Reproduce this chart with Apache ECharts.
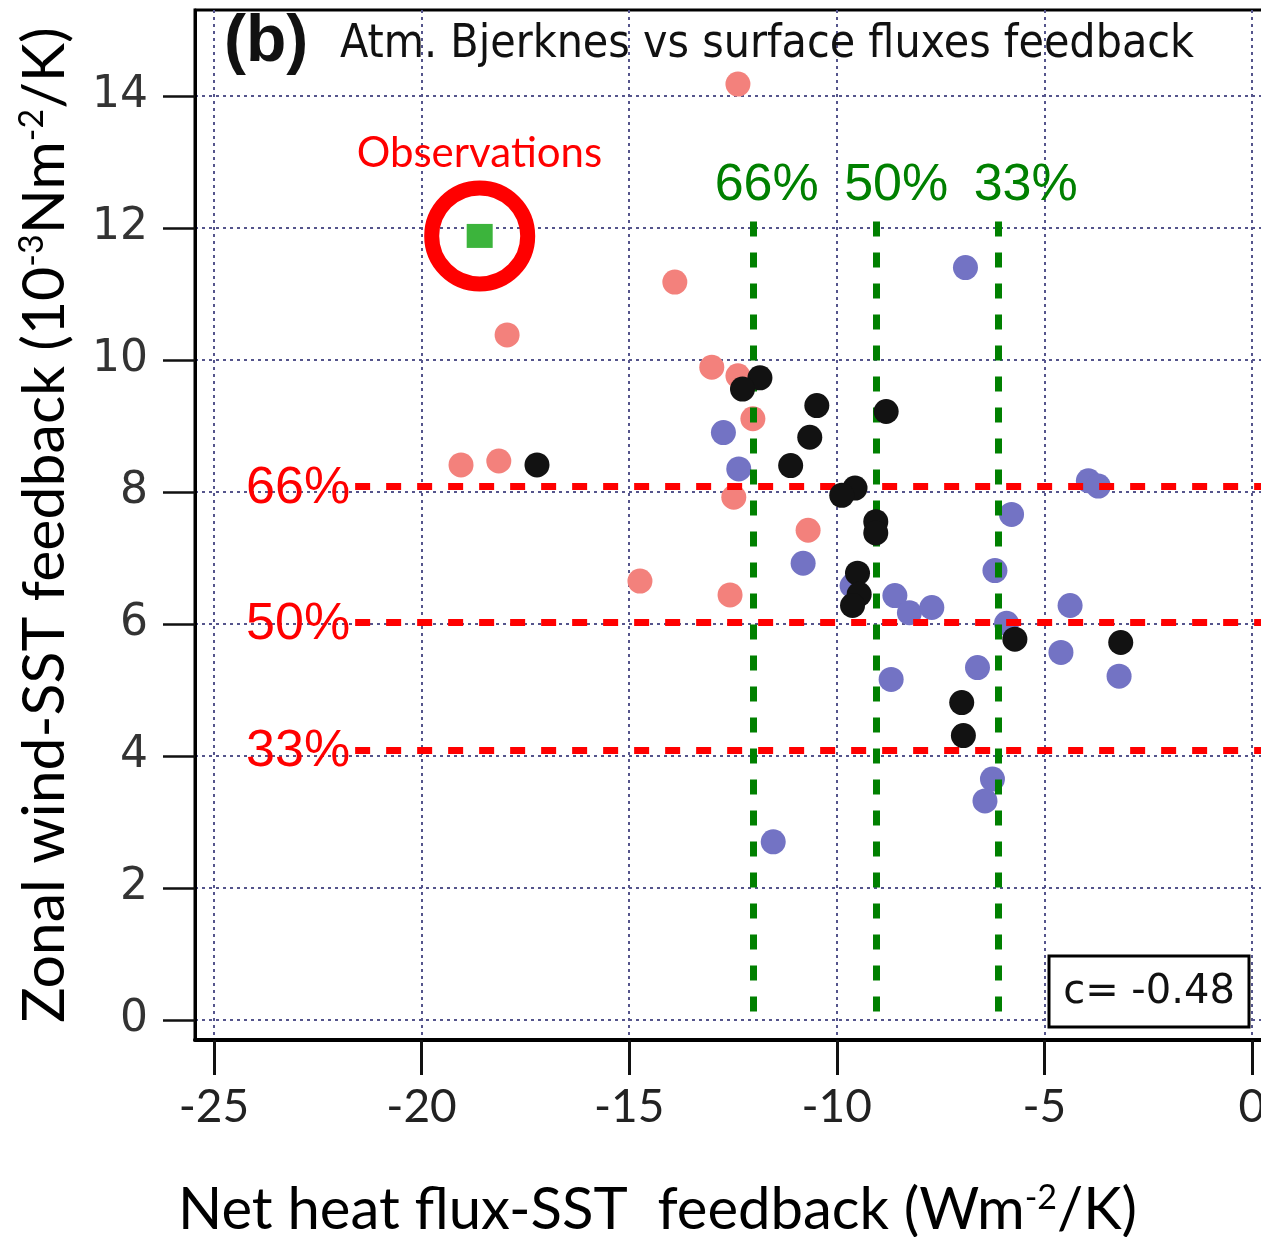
<!DOCTYPE html>
<html>
<head>
<meta charset="utf-8">
<script src="https://cdn.jsdelivr.net/npm/echarts@6/dist/echarts.min.js"></script>
<style>
  html, body { margin: 0; padding: 0; background: #ffffff; }
  #chart { width: 1261px; height: 1237px; }
</style>
</head>
<body>
<div id="chart"></div>
<script>
// Axis ticks
const xTicks = [-25, -20, -15, -10, -5, 0];
const yTicks = [0, 2, 4, 6, 8, 10, 12, 14];

// Model feedbacks: [net heat flux-SST (W m-2 K-1), zonal wind-SST (1e-3 N m-2 K-1)]
const pinkModels = [
  [-12.38, 14.18], [-13.90, 11.18], [-17.94, 10.38], [-13.01, 9.89],
  [-12.38, 9.76], [-12.02, 9.11], [-19.05, 8.41], [-18.14, 8.47],
  [-12.48, 7.92], [-10.69, 7.42], [-14.74, 6.65], [-12.57, 6.44]
];
const blueModels = [
  [-6.90, 11.40], [-12.73, 8.90], [-12.36, 8.35], [-10.81, 6.92],
  [-9.63, 6.58], [-8.60, 6.43], [-8.25, 6.17], [-7.71, 6.25],
  [-8.69, 5.16], [-6.61, 5.34], [-6.19, 6.81], [-5.79, 7.66],
  [-5.91, 6.01], [-3.94, 8.17], [-3.70, 8.09], [-4.38, 6.28],
  [-4.60, 5.57], [-3.20, 5.21], [-6.25, 3.65], [-6.43, 3.32],
  [-11.53, 2.70]
];
const blackModels = [
  [-11.85, 9.73], [-12.27, 9.56], [-10.48, 9.31], [-8.81, 9.22],
  [-10.65, 8.83], [-11.11, 8.40], [-9.56, 8.06], [-9.88, 7.95],
  [-9.06, 7.55], [-9.06, 7.38], [-9.50, 6.77], [-9.46, 6.45],
  [-9.62, 6.28], [-6.99, 4.81], [-6.95, 4.31], [-5.71, 5.77],
  [-3.16, 5.72], [-17.22, 8.41]
];
const observation = [-18.6, 11.88];

// Percentile thresholds
const windPercentLabels = ['66%', '50%', '33%'];
const windPercentValues = [8.08, 6.02, 4.09];
const fluxPercentLabels = ['66%', '50%', '33%'];
const fluxPercentValues = [-12.0, -9.05, -6.1];

const correlation = -0.48;

// Axis extents of the plotting box
const xMin = -25.457, xMax = 0.70;
const yMin = -0.303, yMax = 15.303;
const windLineStart = -21.6;
const fluxLineTop = 12.1, fluxLineBottom = -0.08;

const chart = echarts.init(document.getElementById('chart'), null, { renderer: 'canvas' });

const gridLine = { show: true, lineStyle: { color: '#55558c', width: 2, type: [3, 4] } };

function scatter(name, data, color, z) {
  return {
    name, type: 'scatter', data, z,
    symbol: 'circle', symbolSize: 25,
    itemStyle: { color, opacity: 1 },
    emphasis: { disabled: true }, silent: true
  };
}

const windLines = windPercentValues.map(v => [
  { coord: [windLineStart, v], lineStyle: { color: '#ff0000', width: 7, type: [15, 16] } },
  { coord: [xMax, v] }
]);
const fluxLines = fluxPercentValues.map(v => [
  { coord: [v, fluxLineTop], lineStyle: { color: '#008000', width: 7, type: [15, 16] } },
  { coord: [v, fluxLineBottom] }
]);

chart.setOption({
  animation: false,
  backgroundColor: '#ffffff',
  grid: {
    left: 195, top: 10, width: 1086, height: 1030,
    containLabel: false, outerBoundsMode: 'none',
    show: true, borderColor: '#000', borderWidth: 3, backgroundColor: 'transparent'
  },
  xAxis: {
    type: 'value', min: xMin, max: xMax,
    axisLine: { show: true, onZero: false, lineStyle: { color: '#000', width: 4 } },
    axisTick: { show: true, inside: false, length: 35, customValues: xTicks, lineStyle: { color: '#111', width: 3 } },
    axisLabel: { customValues: xTicks, margin: 44, fontFamily: 'Lato', fontSize: 46, color: '#222' },
    splitLine: gridLine
  },
  yAxis: {
    type: 'value', min: yMin, max: yMax,
    name: 'Zonal wind-SST feedback (10{sup|-3}Nm{sup|-2}/K)',
    nameLocation: 'middle', nameGap: 121, nameRotate: 90,
    nameTextStyle: {
      fontFamily: 'Lato', fontSize: 59, color: '#000',
      rich: { sup: { fontFamily: 'Lato', fontSize: 34, verticalAlign: 'top', padding: [0, 0, 24, 0] } }
    },
    axisLine: { show: true, onZero: false, lineStyle: { color: '#000', width: 3 } },
    axisTick: { show: true, inside: false, length: 32, customValues: yTicks, lineStyle: { color: '#111', width: 2.5 } },
    axisLabel: { customValues: yTicks, margin: 47, fontFamily: 'DejaVu Sans', fontSize: 44, color: '#333' },
    splitLine: gridLine
  },
  series: [
    scatter('pink', pinkModels, '#f3817c', 3),
    scatter('blue', blueModels, '#7373c4', 4),
    scatter('black', blackModels, '#121212', 5),
    {
      name: 'thresholds', type: 'scatter', data: [], z: 6, silent: true,
      markLine: {
        silent: true, symbol: 'none', animation: false,
        label: { show: false },
        data: [...windLines, ...fluxLines]
      }
    },
    {
      name: 'observations', type: 'scatter', z: 7, silent: true,
      data: [
        { value: observation, symbol: 'circle', symbolSize: 96,
          itemStyle: { color: 'rgba(0,0,0,0)', borderColor: '#ff0000', borderWidth: 15, opacity: 1 } },
        { value: observation, symbol: 'rect', symbolSize: [26, 24],
          itemStyle: { color: '#3cb43c', opacity: 1 } }
      ]
    }
  ]
});

// Annotations placed from the data values they describe
const graphics = [];
windPercentValues.forEach((v, i) => {
  const p = chart.convertToPixel({ gridIndex: 0 }, [windLineStart, v]);
  graphics.push({
    type: 'text', x: p[0] - 5, y: p[1] + 2, z: 20,
    style: { text: windPercentLabels[i], fill: '#ff0000', font: '52px "Liberation Sans"',
             align: 'right', verticalAlign: 'middle' }
  });
});
fluxPercentValues.forEach((v, i) => {
  const p = chart.convertToPixel({ gridIndex: 0 }, [v, fluxLineTop]);
  graphics.push({
    type: 'text', x: p[0] + 13 + i * 7, y: p[1] - 36, z: 20,
    style: { text: fluxPercentLabels[i], fill: '#008000', font: '52px "Liberation Sans"',
             align: 'center', verticalAlign: 'middle' }
  });
});
const obsPx = chart.convertToPixel({ gridIndex: 0 }, observation);
graphics.push({
  type: 'text', x: obsPx[0] - 123, y: obsPx[1] - 82, z: 20,
  style: { text: 'Observations', fill: '#ff0000', font: '42px Lato', align: 'left', verticalAlign: 'middle' }
});
// Panel title
graphics.push({
  type: 'text', left: 224, top: 10, z: 20,
  style: { text: '(b)', fill: '#111', font: 'bold 66px "Liberation Sans"' }
});
graphics.push({
  type: 'text', left: 340, top: 22, z: 20,
  style: { text: 'Atm. Bjerknes vs surface fluxes feedback', fill: '#111', font: '46px "DejaVu Sans Condensed"' }
});
// Correlation box
graphics.push({
  type: 'rect', z: 20, shape: { x: 1049, y: 956, width: 200, height: 71 },
  style: { fill: '#fff', stroke: '#000', lineWidth: 3 }
});
graphics.push({
  type: 'text', x: 1149, y: 993, z: 21,
  style: { text: 'c= ' + correlation.toFixed(2), fill: '#111', font: '40px "DejaVu Sans"', align: 'center', verticalAlign: 'middle' }
});
// Horizontal axis title
graphics.push({
  type: 'text', x: 178, y: 1210, z: 20,
  style: {
    text: 'Net heat flux-SST  feedback (Wm{sup|-2}/K)',
    fill: '#000', font: '58px Lato', verticalAlign: 'middle',
    rich: { sup: { font: '34px Lato', fill: '#000', verticalAlign: 'top', padding: [0, 0, 24, 0] } }
  }
});
chart.setOption({ graphic: graphics });
</script>
</body>
</html>
